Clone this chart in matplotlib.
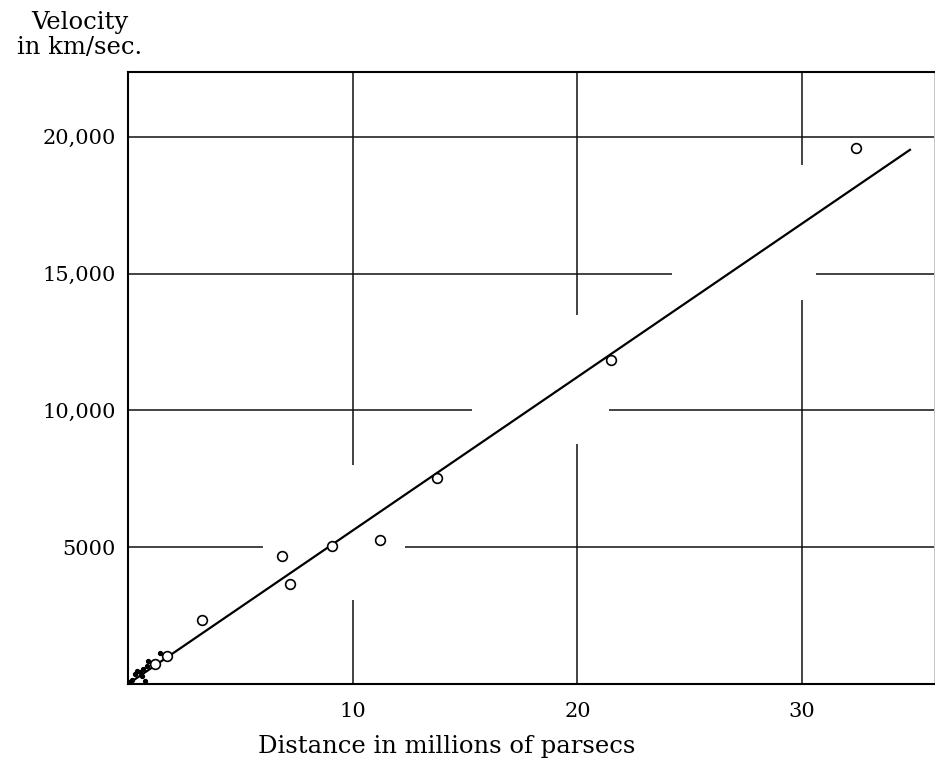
import matplotlib.pyplot as plt

# Cluster means (open circles): distance in Mpc, velocity in km/s
cluster_dist = [32.4, 21.5, 13.75, 11.2, 9.1, 6.85, 7.2, 3.3, 1.72, 1.2]
cluster_vel = [19600, 11860, 7520, 5250, 5040, 4670, 3650, 2340, 1030, 730]

# Individual nebulae near the origin (small dots)
neb_dist = [1.42, 0.89, 0.85, 0.67, 0.53, 0.4, 0.31, 0.62, 0.76, 0.05, 0.2]
neb_vel = [1130, 840, 660, 550, 440, 470, 365, 290, 110, 60, 150]

# Fitted velocity-distance relation
fit_dist = [0.0, 34.8]
fit_vel = [0, 19525]

x_ticks = [10, 20, 30]
x_tick_labels = ['10', '20', '30']
y_ticks = [5000, 10000, 15000, 20000]
y_tick_labels = ['5000', '10,000', '15,000', '20,000']

# Broken grid lines: (value, list of (start, end) pieces)
H_GRID = [
    (5000, [(0, 6.0), (12.33, 36)]),
    (10000, [(0, 15.3), (21.4, 36)]),
    (15000, [(0, 24.2), (30.6, 36)]),
    (20000, [(0, 36)]),
]
V_GRID = [
    (10, [(0, 3070), (7990, 23000)]),
    (20, [(0, 8760), (13500, 23000)]),
    (30, [(0, 14050), (18980, 23000)]),
]

SERIF = ['DejaVu Serif']

fig = plt.figure(figsize=(9.35, 7.7), dpi=100)
ax = fig.add_axes([128 / 935, 1 - 684 / 770, (934 - 128) / 935, (684 - 72) / 770])

# grid drawn in pieces, leaving gaps around the fitted line
for val, pieces in H_GRID:
    for a, b in pieces:
        ax.hlines(val, a, b, color='#111111', lw=1.1, zorder=1)
for val, pieces in V_GRID:
    for a, b in pieces:
        ax.vlines(val, a, b, color='#111111', lw=1.1, zorder=1)

ax.plot(fit_dist, fit_vel, color='black', lw=1.6, zorder=2)
ax.plot(neb_dist, neb_vel, 'o', color='black', ms=2.8, zorder=3)
ax.plot(cluster_dist, cluster_vel, 'o', mfc='white', mec='black', mew=1.2, ms=7, zorder=4)

ax.set_xlim(0, 35.87)
ax.set_ylim(0, 22370)

for side in ['left', 'top', 'bottom']:
    ax.spines[side].set_linewidth(1.5)
ax.spines['right'].set_linewidth(0.6)
ax.spines['right'].set_color('#bbbbbb')

ax.set_xticks(x_ticks)
ax.set_xticklabels(x_tick_labels, family=SERIF, fontsize=15)
ax.set_yticks(y_ticks)
ax.set_yticklabels(y_tick_labels, family=SERIF, fontsize=15)
ax.tick_params(length=0, pad=9)
ax.tick_params(axis='x', pad=13)

fig.text(447 / 935, 1 - 747 / 770, 'Distance in millions of parsecs',
         family=SERIF, fontsize=17.5, ha='center', va='center')
fig.text(80 / 935, 1 - 22 / 770, 'Velocity', family=SERIF, fontsize=17.5,
         ha='center', va='center')
fig.text(80 / 935, 1 - 47 / 770, 'in km/sec.', family=SERIF, fontsize=17.5,
         ha='center', va='center')

fig.savefig('out.png', dpi=100)
